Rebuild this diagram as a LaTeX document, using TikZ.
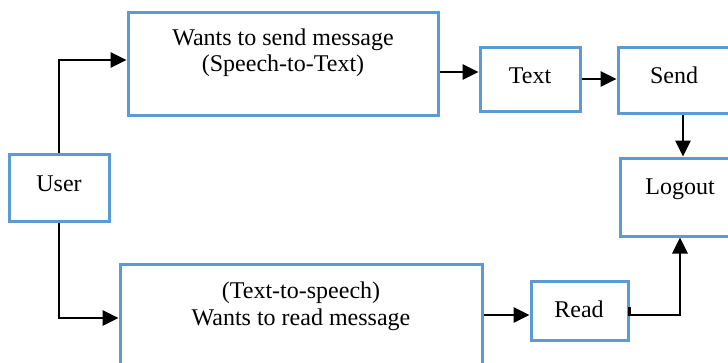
\documentclass[tikz,border=0pt]{standalone}
\usepackage{fontspec}
\setmainfont{Liberation Serif}
\usetikzlibrary{arrows.meta}
\definecolor{boxblue}{HTML}{5B9BD5}
\tikzset{
  box/.style={draw=boxblue, line width=3pt, rectangle, inner sep=0pt},
  lbl/.style={anchor=base, inner sep=0pt, font=\fontsize{24}{27}\selectfont, align=center},
  conn/.style={draw=black, line width=2.8pt, -{Triangle[length=16pt,width=15pt]}}
}
\begin{document}
\begin{tikzpicture}[x=1pt,y=-1pt]
\useasboundingbox (0,0) rectangle (728,362);
\clip (0,0) rectangle (728,362);
% boxes
\node[box, minimum width=310pt, minimum height=103pt] (sendmsg) at (283,63.5) {};
\node[box, minimum width=100pt, minimum height=64pt] (text) at (530,79) {};
\node[box, minimum width=112pt, minimum height=66pt] (send) at (674,80) {};
\node[box, minimum width=120pt, minimum height=78pt] (logout) at (680,197) {};
\node[box, minimum width=100pt, minimum height=67pt] (user) at (59,187.5) {};
\node[box, minimum width=362pt, minimum height=136pt] (readmsg) at (301,332) {};
\node[box, minimum width=97pt, minimum height=59pt] (read) at (579.5,310.5) {};
% labels
\node[lbl] (tsendmsg1) at (283,45) {Wants to send message};
\node[lbl] (tsendmsg2) at (283,71) {(Speech-to-Text)};
\node[lbl] (ttext) at (530,83) {Text};
\node[lbl] (tsend) at (674,83) {Send};
\node[lbl] (tlogout) at (680,194) {Logout};
\node[lbl] (tuser) at (59,191) {User};
\node[lbl] (tread) at (579,317) {Read};
\node[lbl] (treadmsg1) at (301,298) {(Text-to-speech)};
\node[lbl] (treadmsg2) at (301,325) {Wants to read message};
% connectors
\draw[conn] (user.north) |- ([yshift=3.5pt]sendmsg.west);
\draw[conn] ([yshift=-8.5pt]sendmsg.east) -- ([yshift=-8.5pt]sendmsg.east -| text.west);
\draw[conn] (text.east) -- (text.east -| send.west);
\draw[conn] ([xshift=3pt]logout.north |- send.south) -- ([xshift=3pt]logout.north);
\draw[conn] (user.south) |- ([yshift=14pt]readmsg.west);
\draw[conn] ([yshift=-4.5pt]read.west -| readmsg.east) -- ([yshift=-4.5pt]read.west);
\draw[conn] ([yshift=3.5pt]read.east) -- ([yshift=-4.5pt]read.east) -| (logout.south);
\end{tikzpicture}
\end{document}
